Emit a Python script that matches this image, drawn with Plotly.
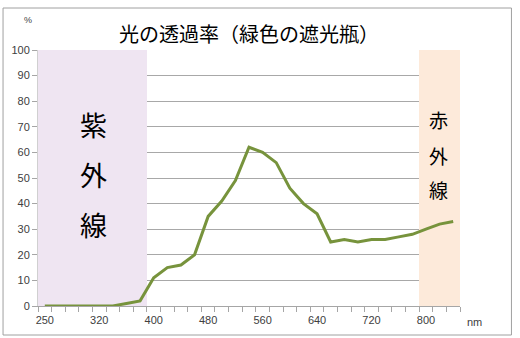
import plotly.graph_objects as go

# ---- data ----
wavelengths = [250, 260, 280, 300, 320, 340, 360, 380, 400, 420, 440, 460, 480, 500, 520, 540,
               560, 580, 600, 620, 640, 660, 680, 700, 720, 740, 760, 780, 800, 820, 840]
transmittance = [0, 0, 0, 0, 0, 0, 1, 2, 11, 15, 16, 20, 35, 41, 49, 62,
                 60, 56, 46, 40, 36, 25, 26, 25, 26, 26, 27, 28, 30, 32, 33]
tick_labels = ["250", "320", "400", "480", "560", "640", "720", "800"]
uv_band = [100 if w < 400 else None for w in wavelengths]
ir_band = [100 if w >= 800 else None for w in wavelengths]

n = len(wavelengths)
idx = list(range(n))
tick_idx = [wavelengths.index(int(t)) for t in tick_labels]

# plot-area pixel geometry
L, R, T, B = 38, 59.5, 50, 32
W, H = 520 - L - R, 338 - T - B
def px(x): return (x - L) / W
def py(y): return (338 - B - y) / H

fig = go.Figure()
fig.add_trace(go.Bar(x=idx, y=uv_band, width=1, marker=dict(color="#EFE5F2", line=dict(width=0)),
                     hoverinfo="skip", showlegend=False))
fig.add_trace(go.Bar(x=idx, y=ir_band, width=1, marker=dict(color="#FDEADA", line=dict(width=0)),
                     hoverinfo="skip", showlegend=False))
fig.add_trace(go.Scatter(x=idx, y=transmittance, mode="lines",
                         line=dict(color="#77933C", width=3), showlegend=False))

tickfont = dict(family="Liberation Sans, Arial, sans-serif", size=11, color="#404040")

fig.update_layout(
    width=520, height=338,
    margin=dict(l=L, r=R, t=T, b=B),
    paper_bgcolor="white", plot_bgcolor="white",
    barmode="overlay", bargap=0,
    xaxis=dict(range=[-0.5, n - 0.5], tickvals=tick_idx, ticktext=tick_labels,
               ticks="", showgrid=False, zeroline=False, showline=True,
               linecolor="#A6A6A6", linewidth=1, tickfont=tickfont, ticklabelstandoff=4,
               minor=dict(tick0=-0.5, dtick=1, ticks="outside", ticklen=5,
                          tickcolor="#A6A6A6", showgrid=False)),
    yaxis=dict(range=[0, 100], dtick=10, ticks="outside", ticklen=5, tickcolor="#A6A6A6",
               showgrid=True, gridcolor="#A8A8A8", gridwidth=1, zeroline=False,
               showline=True, linecolor="#D0D0D0", tickfont=tickfont),
    font=dict(family="Noto Sans CJK JP"),
)

fig.add_shape(type="rect", xref="paper", yref="paper",
              x0=px(3), x1=px(512), y0=py(335), y1=py(8),
              line=dict(color="#A0A0A0", width=1), fillcolor="rgba(0,0,0,0)", layer="below")

def ann(text, x, y, size, family="Noto Sans CJK JP", color="#000000"):
    fig.add_annotation(text=text, xref="paper", yref="paper", x=px(x), y=py(y),
                       xanchor="center", yanchor="middle", showarrow=False,
                       font=dict(family=family, size=size, color=color))

ann("光の透過率（緑色の遮光瓶）", 249, 33, 20)
ann("%", 28, 20, 9, "Liberation Sans", "#404040")
ann("nm", 475, 322, 11, "Liberation Sans", "#404040")
for ch, yy in zip("紫外線", [124, 174, 224]):
    ann(ch, 94, yy, 27)
for ch, yy in zip("赤外線", [119, 155, 189]):
    ann(ch, 439, yy, 19)

fig.write_html("out.html")
